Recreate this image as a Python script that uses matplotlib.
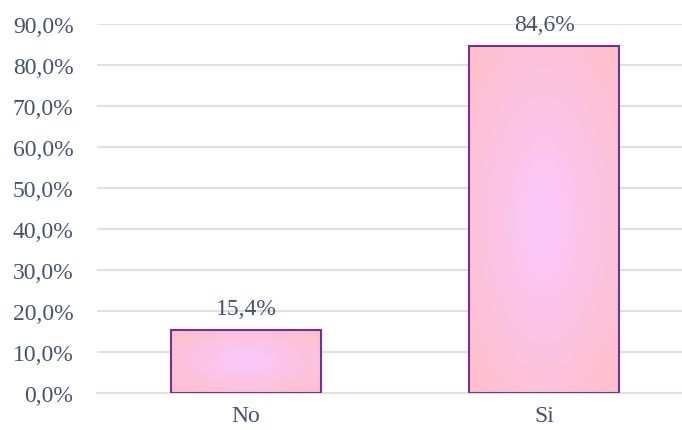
import matplotlib.pyplot as plt
import numpy as np
from matplotlib.patches import Rectangle

# datos
categorias = ['No', 'Si']
porcentajes = [15.4, 84.6]
ticks_y = [0, 10, 20, 30, 40, 50, 60, 70, 80, 90]

plt.rcParams['font.family'] = ['Liberation Serif', 'DejaVu Serif']
color_texto = '#44546A'

fig = plt.figure(figsize=(6.82, 4.31), dpi=100)
ax = fig.add_axes([97/682, 37/431, 585/682, 369/431])

ancho = 0.503
xs = np.arange(len(categorias))

# degradado radial (centro lila claro, bordes rosa salmón)
c_centro = np.array([250, 200, 253]) / 255
c_borde = np.array([255, 192, 200]) / 255
gy, gx = np.mgrid[-1:1:200j, -1:1:200j]
r = np.clip(np.sqrt(gx**2 + gy**2) / np.sqrt(2), 0, 1)
img = c_centro[None, None, :] * (1 - r[..., None]) + c_borde[None, None, :] * r[..., None]

barras = ax.bar(xs, porcentajes, width=ancho, color='none', edgecolor='#7030A0', linewidth=1.5, zorder=3)
for b in barras:
    x0, y0 = b.get_x(), b.get_y()
    w, h = b.get_width(), b.get_height()
    im = ax.imshow(img, extent=[x0, x0 + w, y0, y0 + h], aspect='auto', zorder=2, interpolation='bilinear')
    clip = Rectangle((x0, y0), w, h, transform=ax.transData)
    im.set_clip_path(clip)

for x, v in zip(xs, porcentajes):
    ax.annotate('{:.1f}%'.format(v).replace('.', ','), (x, v), xytext=(0, 8), textcoords='offset points',
                ha='center', va='bottom', fontsize=17, color=color_texto)

ax.set_xlim(-0.5, 1.463)
ax.set_ylim(0, 90)
ax.set_yticks(ticks_y)
ax.set_yticklabels(['{:.1f}%'.format(t).replace('.', ',') for t in ticks_y])
ax.set_xticks(xs)
ax.set_xticklabels(categorias)
ax.tick_params(axis='both', length=0, labelsize=17, labelcolor=color_texto)
ax.tick_params(axis='y', pad=17)
ax.tick_params(axis='x', pad=9)
ax.grid(axis='y', color='#DDE1E6', linewidth=1.5, zorder=0)
ax.set_axisbelow(True)
for s in ['top', 'right', 'left']:
    ax.spines[s].set_visible(False)
ax.spines['bottom'].set_color('#DDE1E6')
ax.spines['bottom'].set_linewidth(1.5)

fig.savefig('out.png', dpi=100)
